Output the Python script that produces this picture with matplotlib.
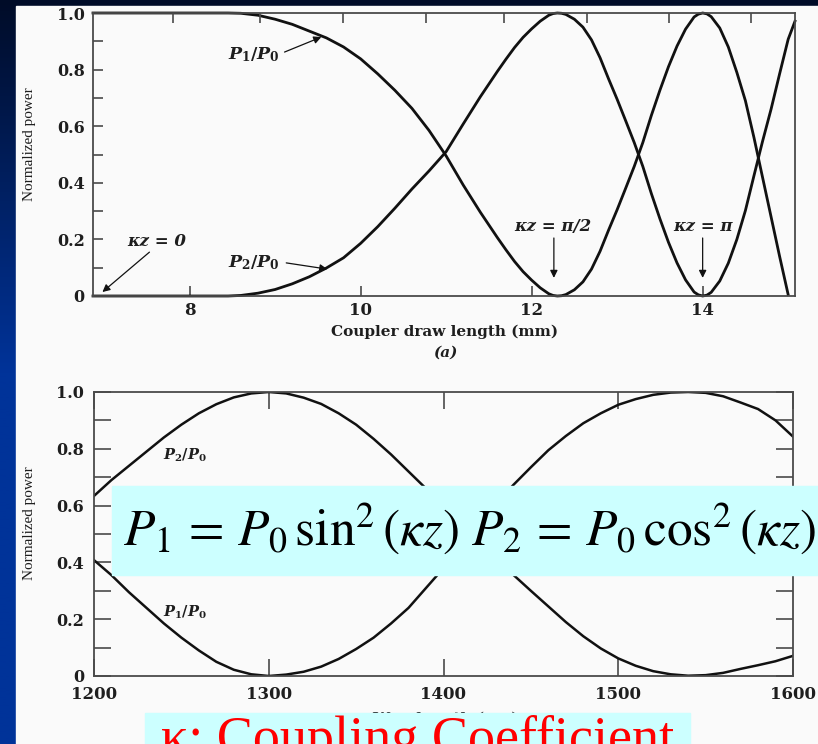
import matplotlib.pyplot as plt
import numpy as np
from matplotlib.colors import LinearSegmentedColormap
from matplotlib.patches import Rectangle

plt.rcParams["mathtext.fontset"] = "custom"
plt.rcParams["mathtext.it"] = "DejaVu Serif:italic:bold"
plt.rcParams["mathtext.rm"] = "DejaVu Serif:bold"

# (a) output power vs. coupler draw length (mm)
draw_mm = [6.87, 8.0, 8.45, 8.6, 8.8, 9.0, 9.2, 9.4, 9.6, 9.8, 10.0, 10.2, 10.4,
           10.6, 10.8, 11.0, 11.2, 11.4, 11.6, 11.7, 11.8, 11.9, 12.0, 12.1, 12.2,
           12.25, 12.3, 12.35, 12.4, 12.5, 12.6, 12.7, 12.8, 12.9, 13.0, 13.1,
           13.2, 13.3, 13.4, 13.5, 13.6, 13.7, 13.8, 13.9, 13.95, 14.0, 14.05,
           14.1, 14.2, 14.3, 14.4, 14.5, 14.6, 14.7, 14.8, 14.9, 15.0, 15.08]
p1_draw = [1.0, 1.0, 1.0, 0.999, 0.992, 0.978, 0.960, 0.936, 0.912, 0.880, 0.838,
           0.785, 0.727, 0.663, 0.585, 0.495, 0.392, 0.296, 0.206, 0.163, 0.122,
           0.086, 0.056, 0.029, 0.008, 0.002, 0.0, 0.001, 0.005, 0.022, 0.050,
           0.095, 0.158, 0.233, 0.305, 0.381, 0.458, 0.542, 0.638, 0.727, 0.810,
           0.883, 0.943, 0.986, 0.996, 1.0, 0.997, 0.987, 0.947, 0.880, 0.790,
           0.690, 0.560, 0.420, 0.280, 0.140, 0.005]
p2_draw = [0.0, 0.0, 0.0, 0.002, 0.010, 0.023, 0.043, 0.068, 0.099, 0.135, 0.186,
           0.245, 0.310, 0.378, 0.442, 0.510, 0.608, 0.704, 0.794, 0.837, 0.878,
           0.914, 0.944, 0.971, 0.992, 0.998, 1.0, 0.999, 0.995, 0.978, 0.950,
           0.905, 0.842, 0.767, 0.695, 0.619, 0.542, 0.458, 0.362, 0.273, 0.190,
           0.117, 0.057, 0.014, 0.004, 0.0, 0.003, 0.013, 0.053, 0.116, 0.200,
           0.302, 0.425, 0.546, 0.660, 0.785, 0.907, 0.971]

# (b) output power vs. wavelength (nm)
wl_nm = [1200, 1210, 1220, 1230, 1240, 1250, 1260, 1270, 1280, 1290, 1300, 1310,
         1320, 1330, 1340, 1350, 1360, 1370, 1380, 1390, 1400, 1410, 1420, 1430,
         1440, 1450, 1460, 1470, 1480, 1490, 1500, 1510, 1520, 1530, 1540, 1550,
         1560, 1570, 1580, 1590, 1600]
p1_wl = [0.408, 0.355, 0.295, 0.240, 0.185, 0.135, 0.090, 0.050, 0.022, 0.006, 0.0,
         0.005, 0.015, 0.033, 0.060, 0.095, 0.135, 0.185, 0.240, 0.310, 0.380,
         0.455, 0.530, 0.605, 0.673, 0.735, 0.795, 0.845, 0.890, 0.925, 0.955,
         0.975, 0.990, 0.998, 1.0, 0.997, 0.985, 0.963, 0.940, 0.900, 0.843]
p2_wl = [0.634, 0.690, 0.740, 0.790, 0.840, 0.885, 0.925, 0.957, 0.981, 0.995, 1.0,
         0.995, 0.980, 0.958, 0.925, 0.885, 0.835, 0.780, 0.720, 0.660, 0.600,
         0.530, 0.465, 0.410, 0.356, 0.300, 0.245, 0.190, 0.140, 0.097, 0.062,
         0.036, 0.017, 0.006, 0.001, 0.003, 0.011, 0.025, 0.038, 0.052, 0.071]

power_ticks = [0.0, 0.1, 0.2, 0.3, 0.4, 0.5, 0.6, 0.7, 0.8, 0.9, 1.0]
power_labels = ["0", "", "0.2", "", "0.4", "", "0.6", "", "0.8", "", "1.0"]
draw_ticks = [8, 10, 12, 14]
draw_top_ticks = [7.81, 8.82, 9.79, 10.77, 11.68, 12.65, 13.61, 14.57]
wl_ticks = [1200, 1300, 1400, 1500, 1600]

W, H = 818, 744
SPINE = "#4a4a4a"
LINE = "#111111"
INK = "#1e1e1e"
tick_font = dict(family="DejaVu Serif", weight="bold")
note_font = dict(family="DejaVu Serif", weight="bold", style="italic", color=INK)


def fbox(left, top, right, bottom):
    """pixel box -> figure fraction [x, y, w, h]"""
    return [left / W, 1 - bottom / H, (right - left) / W, (bottom - top) / H]


fig = plt.figure(figsize=(W / 100, H / 100), dpi=100)

# slide background
bg = fig.add_axes([0, 0, 1, 1], zorder=-1)
bg.axis("off")
cmap = LinearSegmentedColormap.from_list(
    "slide", [(0, "#000c28"), (0.5, "#003399"), (1, "#003399")])
bg.imshow(np.linspace(0, 1, 256).reshape(-1, 1), cmap=cmap, aspect="auto",
          extent=[0, 1, 0, 1], origin="upper")
bg.add_patch(Rectangle((16 / W, 0), 1 - 16 / W, 1 - 6 / H, color="#fafafa"))
bg.set_xlim(0, 1)
bg.set_ylim(0, 1)


def style_axes(ax, length):
    ax.set_facecolor("none")
    for s in ax.spines.values():
        s.set_color(SPINE)
        s.set_linewidth(1.3)
    ax.tick_params(which="both", direction="in", length=length, width=1.2,
                   color=SPINE, labelcolor=INK)
    ax.set_yticks(power_ticks)
    ax.set_yticklabels(power_labels, **tick_font)
    ax.set_ylim(0, 1)


# ---- top panel: draw length ----
ax1 = fig.add_axes(fbox(93, 13, 795, 296))
style_axes(ax1, 7)
ax1.plot(draw_mm[:len(p1_draw)], p1_draw, color=LINE, lw=2.0, clip_on=False)
ax1.plot(draw_mm, p2_draw, color=LINE, lw=2.0, clip_on=False)
ax1.set_xlim(6.87, 15.08)
ax1.set_xticks(draw_ticks)
ax1.set_xticklabels([str(t) for t in draw_ticks], **tick_font)
ax1.tick_params(axis="x", labelsize=12, pad=4)
ax1.tick_params(axis="y", labelsize=11.5, pad=6)

axt = ax1.twiny()
axt.set_xlim(ax1.get_xlim())
axt.set_xticks(draw_top_ticks)
axt.tick_params(direction="in", length=7, width=1.2, color=SPINE, labeltop=False)
for s in axt.spines.values():
    s.set_visible(False)

arrow = dict(arrowstyle="-|>", color="#111111", lw=0.9, mutation_scale=11,
             shrinkA=0, shrinkB=0)
ax1.text(8.75, 0.852, r"$P_1/P_0$", ha="center", va="center", fontsize=12.5, **note_font)
ax1.annotate("", xy=(9.54, 0.915), xytext=(9.11, 0.862), arrowprops=arrow)
ax1.text(8.75, 0.117, r"$P_2/P_0$", ha="center", va="center", fontsize=12.5, **note_font)
ax1.annotate("", xy=(9.61, 0.095), xytext=(9.13, 0.117), arrowprops=arrow)
ax1.text(7.61, 0.191, "κz = 0", ha="center", va="center", fontsize=12, **note_font)
ax1.annotate("", xy=(6.98, 0.014), xytext=(7.53, 0.155), arrowprops=arrow)
ax1.text(12.25, 0.244, "κz = π/2", ha="center", va="center", fontsize=12, **note_font)
ax1.annotate("", xy=(12.26, 0.064), xytext=(12.26, 0.205), arrowprops=arrow)
ax1.text(14.0, 0.244, "κz = π", ha="center", va="center", fontsize=12, **note_font)
ax1.annotate("", xy=(14.0, 0.064), xytext=(14.0, 0.205), arrowprops=arrow)

fig.text(30 / W, 1 - 144 / H, "Normalized power", rotation=90, ha="center",
         va="center", family="Liberation Serif", fontsize=11, color=INK)
fig.text(445 / W, 1 - 332 / H, "Coupler draw length (mm)", ha="center",
         va="center", fontsize=11, color=INK, **tick_font)
fig.text(445 / W, 1 - 353 / H, "(a)", ha="center", va="center", fontsize=11,
         **note_font)

# ---- bottom panel: wavelength ----
ax2 = fig.add_axes(fbox(94, 392, 793, 676))
style_axes(ax2, 12)
ax2.plot(wl_nm, p1_wl, color=LINE, lw=1.8)
ax2.plot(wl_nm, p2_wl, color=LINE, lw=1.8)
ax2.set_xlim(1200, 1600)
ax2.set_xticks(wl_ticks)
ax2.set_xticklabels([str(t) for t in wl_ticks], **tick_font)
ax2.tick_params(top=True, right=True)
ax2.tick_params(axis="x", labelsize=12, pad=7)
ax2.tick_params(axis="y", labelsize=11.5, pad=7)
ax2.text(1239.5, 0.778, r"$P_2/P_0$", ha="left", va="center", fontsize=10.5, **note_font)
ax2.text(1239.5, 0.225, r"$P_1/P_0$", ha="left", va="center", fontsize=10.5, **note_font)

fig.text(30 / W, 1 - 523 / H, "Normalized power", rotation=90, ha="center",
         va="center", family="Liberation Serif", fontsize=11, color=INK)
fig.text(445 / W, 1 - 719 / H, "Wavelength (nm)", ha="center", va="center",
         fontsize=11, color=INK, **tick_font)

# ---- overlaid equation and caption boxes ----
fig.add_artist(Rectangle((112 / W, 1 - 575 / H), 1 - 112 / W, 89 / H,
                         transform=fig.transFigure, color="#ccffff", zorder=5))
fig.text(123 / W, 1 - 546 / H,
         r"$P_1\,=\,P_0\,\sin^2(\kappa z)\ P_2\,=\,P_0\,\cos^2(\kappa z)$",
         math_fontfamily="stix", fontsize=37, color="black", va="baseline",
         zorder=6)

fig.add_artist(Rectangle((145 / W, 0), 545 / W, 31 / H,
                         transform=fig.transFigure, color="#ccffff", zorder=5))
fig.text(161 / W, -10 / H, "κ: Coupling Coefficient", family="Liberation Serif",
         fontsize=39, color="#ff0000", va="baseline", zorder=6)

fig.savefig("out.png", dpi=100)
